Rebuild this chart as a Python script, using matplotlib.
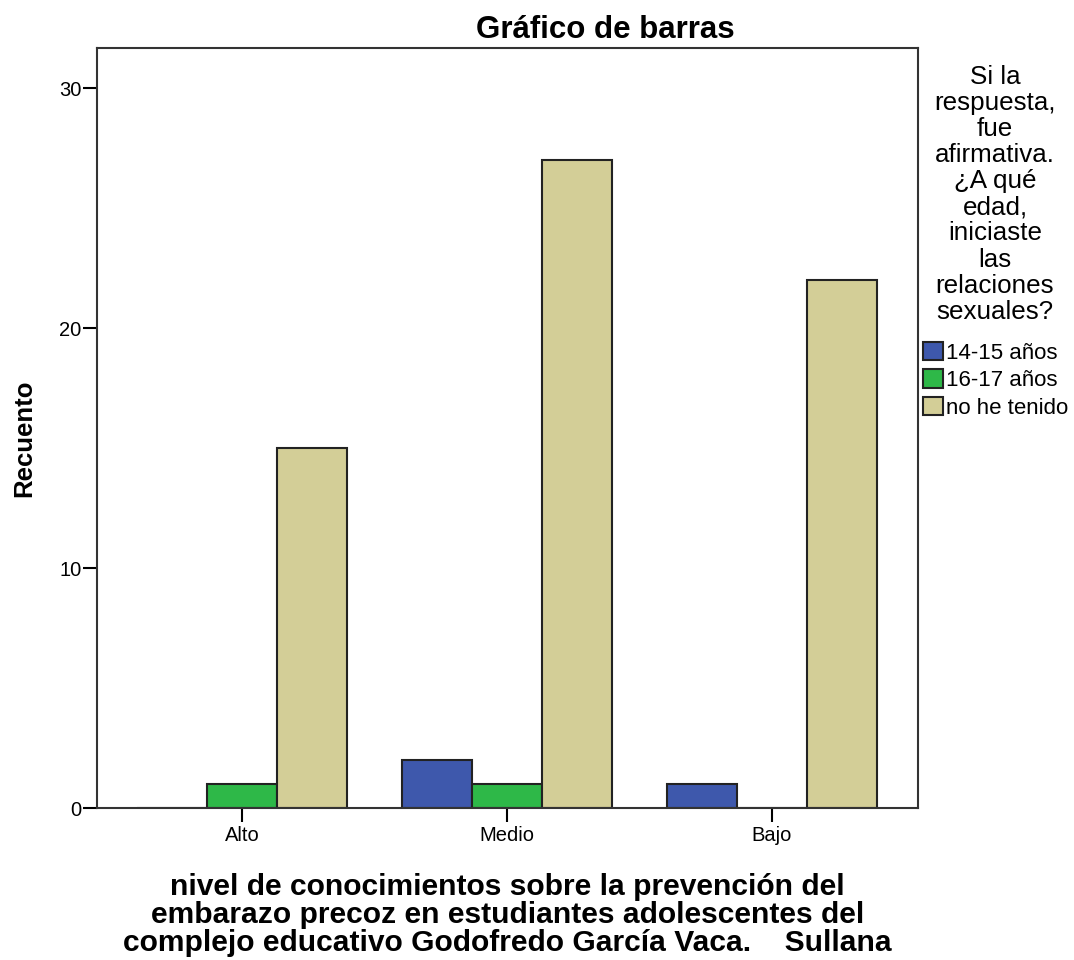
import matplotlib.pyplot as plt
import numpy as np
from matplotlib.patches import Patch

plt.rcParams['font.family'] = ['Liberation Sans', 'DejaVu Sans']

# Datos
categorias = ['Alto', 'Medio', 'Bajo']
series = ['14-15 años', '16-17 años', 'no he tenido']
valores_14_15 = [0, 2, 1]
valores_16_17 = [1, 1, 0]
valores_no = [15, 27, 22]
colores = ['#3e58ac', '#2eb848', '#d3ce97']

fig = plt.figure(figsize=(10.74, 9.6), dpi=100)
ax = fig.add_axes([0.0903, 0.1583, 0.7644, 0.7917])

x = np.arange(len(categorias))
ancho = 0.264
for i, (vals, col) in enumerate(zip([valores_14_15, valores_16_17, valores_no], colores)):
    ax.bar(x + (i - 1) * ancho, vals, ancho, color=col, edgecolor='#222222', linewidth=1.5, zorder=2)

ax.set_xlim(-0.547, 2.551)
ax.set_ylim(0, 31.67)
ax.set_yticks([0, 10, 20, 30])
ax.set_xticks(x)
ax.set_xticklabels(categorias, fontsize=14.5)
ax.tick_params(axis='y', labelsize=14.5, length=10, width=1.5, direction='out', pad=1)
ax.tick_params(axis='x', length=10, width=1.5, direction='out', pad=3)
for s in ax.spines.values():
    s.set_linewidth(1.5)
    s.set_color('#333333')

ax.set_title('Gráfico de barras', fontsize=22.5, fontweight='bold', pad=7, x=0.619)
ax.set_ylabel('Recuento', fontsize=18.5, fontweight='bold')
ax.yaxis.set_label_coords(-0.074, 0.487)
ax.set_xlabel('nivel de conocimientos sobre la prevención del\n'
              'embarazo precoz en estudiantes adolescentes del\n'
              'complejo educativo Godofredo García Vaca.    Sullana',
              fontsize=21.6, fontweight='bold', linespacing=1.0)
ax.xaxis.set_label_coords(0.5, -0.085)

# Título de la leyenda
fig.text(0.9265, 0.932,
         'Si la\nrespuesta,\nfue\nafirmativa.\n¿A qué\nedad,\niniciaste\nlas\nrelaciones\nsexuales?',
         fontsize=18.75, ha='center', va='top', multialignment='center', linespacing=1.107)

handles = [Patch(facecolor=c, edgecolor='#222222', linewidth=1.5, label=s) for c, s in zip(colores, series)]
fig.legend(handles=handles, loc='upper left', bbox_to_anchor=(0.859, 0.644),
           frameon=False, fontsize=16,
           handlelength=0.9, handleheight=0.9, handletextpad=0.15,
           labelspacing=0.25, borderaxespad=0, borderpad=0)

fig.savefig('out.png', dpi=100)
